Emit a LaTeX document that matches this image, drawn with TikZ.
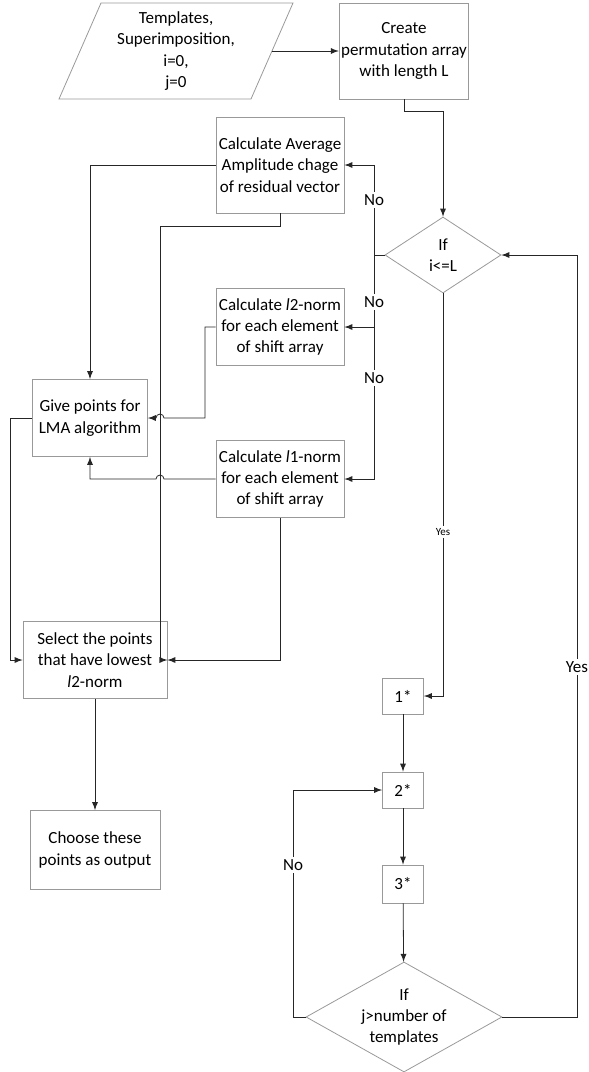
\documentclass[tikz,border=0pt]{standalone}
\usepackage{fontspec}
\setmainfont{Carlito}
\usetikzlibrary{shapes.geometric}

\begin{document}
\begin{tikzpicture}[x=0.5pt,y=-0.5pt,>=latex,
  every node/.style={font=\fontsize{8.5}{10.7}\selectfont},
  box/.style={draw=gray!80,align=center,inner sep=1pt},
  dec/.style={diamond,draw=gray!80,align=center,inner sep=0pt},
  flow/.style={->,draw=black!85},
  lbl/.style={fill=white,inner sep=1pt}]
\useasboundingbox (0,0) rectangle (589,1072);

% boxes
\node[align=center] (inp) at (176,51) {Templates,\\Superimposition,\\i=0,\\j=0};
\draw[gray!80] (101,3) -- (293,3) -- (251,99) -- (59,99) -- cycle;
\coordinate (inpR) at (272,51);
\node[box,minimum width=64pt,minimum height=48pt] (create) at (404,51) {Create\\permutation array\\with length L};
\node[dec,aspect=1.5,minimum width=58pt,minimum height=38pt] (ifi) at (443,255) {If\\i<=L};
\node[box,minimum width=64pt,minimum height=48pt] (avg) at (280,165) {Calculate Average\\Amplitude chage\\of residual vector};
\node[box,minimum width=64pt,minimum height=38.5pt] (l2) at (280,327) {Calculate \textit{l}2-norm\\for each element\\of shift array};
\node[box,minimum width=64pt,minimum height=38.5pt] (l1) at (280,479) {Calculate \textit{l}1-norm\\for each element\\of shift array};
\node[box,minimum width=57.5pt,minimum height=38.5pt] (give) at (90,418) {Give points for\\LMA algorithm};
\node[box,minimum width=72pt,minimum height=38.5pt] (sel) at (95,660) {Select the points\\that have lowest\\\textit{l}2-norm};
\node[box,minimum width=65pt,minimum height=39.5pt] (choose) at (95,850) {Choose these\\points as output};
\node[box,minimum width=20.5pt,minimum height=18pt] (s1) at (403,696) {1*};
\node[box,minimum width=20.5pt,minimum height=18pt] (s2) at (403,790) {2*};
\node[box,minimum width=20.5pt,minimum height=19pt] (s3) at (403,884) {3*};
\node[dec,aspect=1.78,inner sep=-8pt,minimum width=98pt,minimum height=55pt] (ifj) at (404,1017) {If\\j>number of\\templates};

% connectors
\coordinate (nj) at (374,255);
\coordinate (a1) at (160,226);
\coordinate (g1) at (10,418);
\coordinate (k2) at (205,327);
\coordinate (k3) at (205,418);
\coordinate (jl) at (293,1017);
\coordinate (jr) at (577,1017);

\draw[flow] (inpR) -- (create);
\draw[flow] (create.south) -- ++(0,12) -| (ifi.north);
\draw[flow] (ifi.west) -- (nj) |- (avg.east);
\draw[flow] (nj) |- (l2.east);
\draw[flow] (nj) |- (l1.east);
\draw[flow] (avg.west) -| (give.north);
\draw[flow] (avg.south) |- (a1) |- (sel.east);
\draw[flow] (l2.west) -- (k2) -- (k3) -- (164,418) arc[start angle=0,end angle=180,radius=2pt] -- (give.east);
\draw[flow] (l1.west) -- (164,479) arc[start angle=0,end angle=180,radius=2pt] -| (give.south);
\draw[flow] (l1.south) |- (sel.east);
\draw[flow] (give.west) -- (g1) |- (sel.west);
\draw[flow] (sel) -- (choose);
\draw[flow] (ifi.south) |- (s1.east);
\draw[flow] (s1) -- (s2);
\draw[flow] (s2) -- (s3);
\draw[flow] (s3) -- (ifj);
\draw[flow] (ifj.west) -- (jl) |- (s2.west);
\draw[flow] (ifj.east) -- (jr) |- (ifi.east);

% labels
\node[lbl] (no1) at (374,200) {No};
\node[lbl] (no2) at (374,302) {No};
\node[lbl] (no3) at (374,378) {No};
\node[lbl,font=\fontsize{5.5}{7}\selectfont] (yes1) at (443,532) {Yes};
\node[lbl] (no4) at (293,865) {No};
\node[lbl] (yes2) at (577,667) {Yes};
\end{tikzpicture}
\end{document}
